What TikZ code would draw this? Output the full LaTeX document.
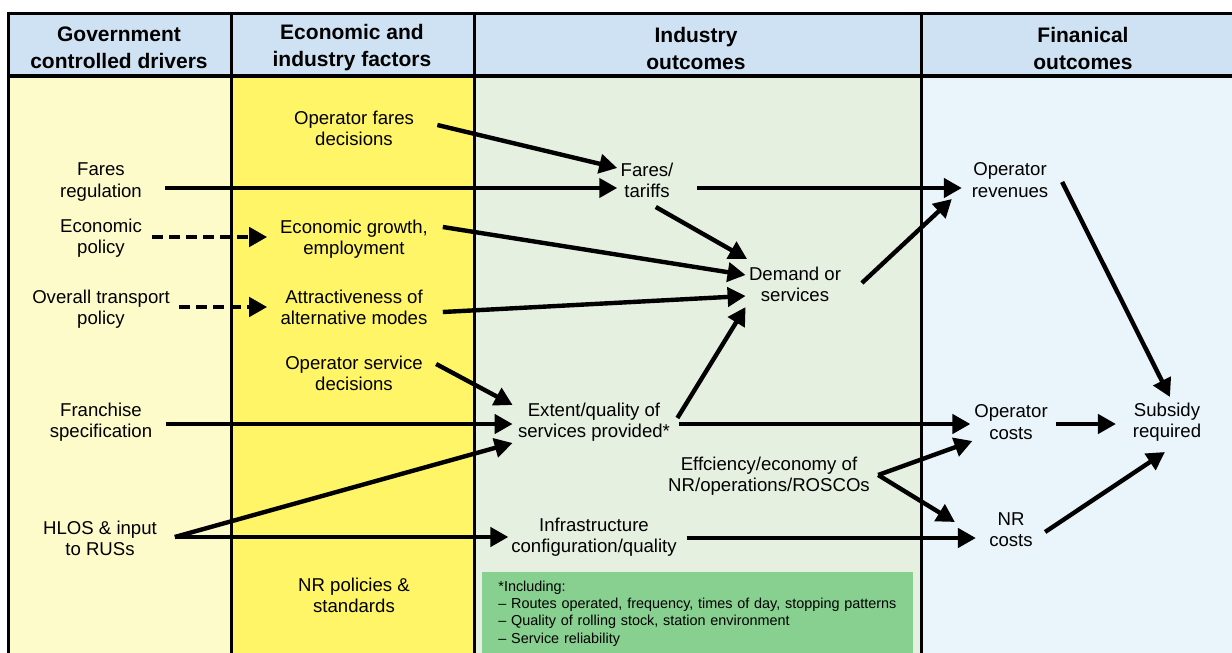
\documentclass[tikz,border=0pt]{standalone}
\usepackage{fontspec}
\setmainfont{Liberation Sans}
\usepackage{tikz}
\usetikzlibrary{arrows.meta}
\definecolor{hdrblue}{HTML}{CFE2F3}
\definecolor{govyel}{HTML}{FEFBCB}
\definecolor{ecoyel}{HTML}{FFF566}
\definecolor{indgrn}{HTML}{E5F0E0}
\definecolor{finblu}{HTML}{EAF5FB}
\definecolor{notegrn}{HTML}{88D08F}

\begin{document}
\begin{tikzpicture}[x=0.5pt,y=-0.5pt,
  lbl/.style={align=center,inner sep=1.5pt,font=\fontsize{9.3}{10.6}\selectfont},
  hd/.style={align=center,font=\bfseries\fontsize{10.5}{13.5}\selectfont},
  notebox/.style={fill=notegrn,align=left,text width=199.5pt,inner xsep=8pt,minimum height=41pt,font=\fontsize{7.2}{8.7}\selectfont},
  arr/.style={line width=2.2pt,-{Triangle[length=9pt,width=9.5pt]}},
  darr/.style={arr,dash pattern=on 5.5pt off 3pt}]
\clip (0,0) rectangle (1232,653);
% columns and frame
\fill[hdrblue] (8,13) rectangle (1240,76);
\fill[govyel] (8,76) rectangle (231,660);
\fill[ecoyel] (231,76) rectangle (474,660);
\fill[indgrn] (474,76) rectangle (921,660);
\fill[finblu] (921,76) rectangle (1240,660);
\draw[line width=1.5pt] (8,660) -- (8,13) -- (1240,13);
\draw[line width=2pt] (8,76) -- (1240,76);
\foreach \x in {231,474,921}
  \draw[line width=1.5pt] (\x,13) -- (\x,660);

\node[hd] (hgov) at (119,48) {Government\\controlled drivers};
\node[hd] (heco) at (352,48) {Economic and\\industry factors};
\node[hd] (hind) at (696,48) {Industry\\outcomes};
\node[hd] (hfin) at (1083,48) {Finanical\\outcomes};

% government controlled drivers
\node[lbl] (freg) at (101,182) {Fares\\regulation};
\node[lbl] (epol) at (101,238) {Economic\\policy};
\node[lbl] (tpol) at (101,309) {Overall transport\\policy};
\node[lbl] (fspec) at (101,422) {Franchise\\specification};
\node[lbl] (hlos) at (100,538) {HLOS \& input\\to RUSs};

% economic and industry factors
\node[lbl] (ofare) at (354,128) {Operator fares\\decisions};
\node[lbl] (egrow) at (354,239) {Economic growth,\\employment};
\node[lbl] (amode) at (354,307) {Attractiveness of\\alternative modes};
\node[lbl] (oserv) at (354,373) {Operator service\\decisions};
\node[lbl] (nrpol) at (354,595) {NR policies \&\\standards};

% industry outcomes
\node[lbl] (fares) at (647,180) {Fares/\\tariffs};
\node[lbl] (dmnd) at (795,284) {Demand or\\services};
\node[lbl] (xtent) at (594,422) {Extent/quality of\\services provided*};
\node[lbl] (effic) at (769,476) {Effciency/economy of\\NR/operations/ROSCOs};
\node[lbl] (infra) at (594,537) {Infrastructure\\configuration/quality};
\node[notebox,anchor=north west] (incl) at (482,572) {*Including:\\
  \textendash{} Routes operated, frequency, times of day, stopping patterns\\
  \textendash{} Quality of rolling stock, station environment\\
  \textendash{} Service reliability};

% financial outcomes
\node[lbl] (orev) at (1010,180) {Operator\\revenues};
\node[lbl] (ocost) at (1011,422) {Operator\\costs};
\node[lbl] (nrcost) at (1011,530) {NR\\costs};
\node[lbl] (subs) at (1167,422) {Subsidy\\required};

\draw[arr] ([shift={(20,-3)}]ofare.east) -- ([shift={(0,-12)}]fares.west);
\draw[arr] ([shift={(20,6)}]freg.east) -- ([shift={(0,8)}]fares.west);
\draw[arr] ([shift={(20,8)}]fares.east) -- ([shift={(-6.5,8)}]orev.west);
\draw[arr] ([shift={(-21,27)}]fares.east) -- ([shift={(1.5,-25)}]dmnd.west);
\draw[arr] ([shift={(11.5,-12)}]egrow.east) -- ([shift={(0,-9)}]dmnd.west);
\draw[arr] ([shift={(12,5)}]amode.east) -- ([shift={(0,12)}]dmnd.west);
\draw[arr] ([shift={(4,-4)}]xtent.east) -- ([shift={(0,23)}]dmnd.west);
\draw[arr] ([shift={(17.5,-1)}]dmnd.east) -- ([shift={(-16.5,19)}]orev.west);
\draw[arr] ([shift={(10.5,2)}]orev.east) -- ([shift={(40.5,-25)}]subs.west);
\draw[darr] ([shift={(7,-1)}]epol.east) -- ([shift={(-9.5,-2)}]egrow.west);
\draw[darr] ([shift={(6,-2)}]tpol.east) -- ([shift={(-10,0)}]amode.west);
\draw[arr] ([shift={(10,-9)}]oserv.east) -- ([shift={(-2,-17)}]xtent.west);
\draw[arr] ([shift={(10,2)}]fspec.east) -- ([shift={(-2,2)}]xtent.west);
\draw[arr] ([shift={(14.5,-1)}]hlos.east) -- ([shift={(-2,21)}]xtent.west);
\draw[arr] ([shift={(14.5,-1)}]hlos.east) -- ([shift={(0.5,0)}]infra.west);
\draw[arr] ([shift={(6,2)}]xtent.east) -- ([shift={(-0.5,2)}]ocost.west);
\draw[arr] ([shift={(5,-1)}]effic.east) -- ([shift={(1.5,19)}]ocost.west);
\draw[arr] ([shift={(5,-1)}]effic.east) -- ([shift={(-31,-8)}]nrcost.west);
\draw[arr] ([shift={(6.5,1)}]infra.east) -- ([shift={(-10,8)}]nrcost.west);
\draw[arr] ([shift={(4.5,2)}]ocost.east) -- ([shift={(-13.5,2)}]subs.west);
\draw[arr] ([shift={(9,2)}]nrcost.east) -- ([shift={(35.5,30)}]subs.west);
\end{tikzpicture}
\end{document}
